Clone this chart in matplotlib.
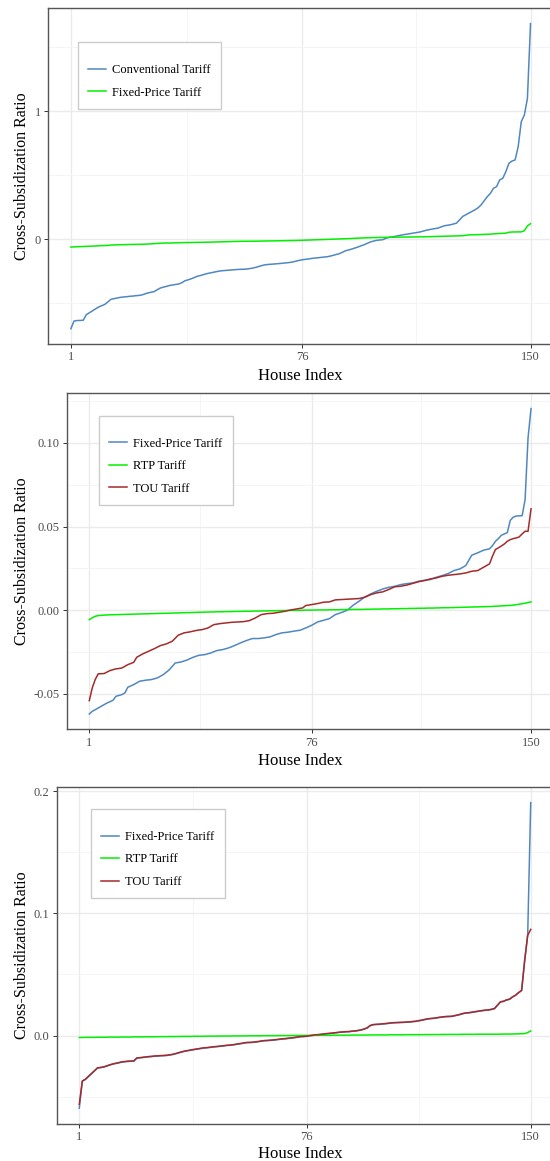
import matplotlib
matplotlib.use("Agg")
import matplotlib.pyplot as plt
import numpy as np

plt.rcParams['font.family'] = ['Liberation Serif', 'DejaVu Serif']

# ---------------- data ----------------
house_index = list(range(1, 151))
x_ticks = [1, 76, 150]
x_minor = [38.5, 113]

conventional_tariff = [
    -0.700, -0.640, -0.636, -0.635, -0.634, -0.590, -0.575, -0.560, -0.545, -0.530,
    -0.520, -0.510, -0.490, -0.470, -0.465, -0.460, -0.455, -0.452, -0.450, -0.447,
    -0.445, -0.442, -0.440, -0.436, -0.428, -0.420, -0.415, -0.410, -0.395, -0.382,
    -0.375, -0.369, -0.362, -0.358, -0.354, -0.350, -0.340, -0.325, -0.318, -0.310,
    -0.300, -0.290, -0.284, -0.277, -0.270, -0.265, -0.260, -0.255, -0.250, -0.247,
    -0.245, -0.243, -0.241, -0.239, -0.237, -0.236, -0.235, -0.234, -0.230, -0.226,
    -0.220, -0.213, -0.206, -0.200, -0.198, -0.196, -0.194, -0.192, -0.190, -0.187,
    -0.185, -0.182, -0.178, -0.172, -0.166, -0.161, -0.158, -0.155, -0.151, -0.148,
    -0.146, -0.143, -0.140, -0.138, -0.133, -0.127, -0.120, -0.114, -0.103, -0.091,
    -0.085, -0.078, -0.070, -0.062, -0.053, -0.044, -0.034, -0.023, -0.016, -0.010,
    -0.007, -0.005, 0.005, 0.013, 0.017, 0.021, 0.026, 0.031, 0.035, 0.039,
    0.043, 0.047, 0.051, 0.055, 0.061, 0.068, 0.073, 0.078, 0.082, 0.086,
    0.095, 0.104, 0.108, 0.112, 0.118, 0.125, 0.150, 0.177, 0.190, 0.203,
    0.216, 0.229, 0.245, 0.268, 0.300, 0.332, 0.358, 0.397, 0.410, 0.462,
    0.475, 0.527, 0.592, 0.610, 0.618, 0.722, 0.917, 0.969, 1.100, 1.683,
]

# Fixed-price tariff (panel 1 green, panel 2 blue)
fixed_price_tariff = [
    -0.0620, -0.0604, -0.0594, -0.0584, -0.0574, -0.0564, -0.0554, -0.0546, -0.0538, -0.0514,
    -0.0509, -0.0504, -0.0494, -0.0460, -0.0452, -0.0444, -0.0434, -0.0424, -0.0421, -0.0418,
    -0.0416, -0.0414, -0.0409, -0.0404, -0.0394, -0.0384, -0.0370, -0.0355, -0.0335, -0.0315,
    -0.0312, -0.0309, -0.0303, -0.0297, -0.0289, -0.0281, -0.0275, -0.0269, -0.0267, -0.0265,
    -0.0260, -0.0255, -0.0248, -0.0241, -0.0238, -0.0235, -0.0230, -0.0225, -0.0218, -0.0211,
    -0.0203, -0.0195, -0.0188, -0.0181, -0.0175, -0.0169, -0.0169, -0.0169, -0.0167, -0.0165,
    -0.0162, -0.0159, -0.0152, -0.0145, -0.0140, -0.0135, -0.0133, -0.0131, -0.0128, -0.0125,
    -0.0122, -0.0120, -0.0113, -0.0106, -0.0098, -0.0090, -0.0080, -0.0070, -0.0065, -0.0060,
    -0.0055, -0.0050, -0.0038, -0.0026, -0.0020, -0.0014, -0.0007, 0.0000, 0.0015, 0.0030,
    0.0042, 0.0054, 0.0067, 0.0080, 0.0089, 0.0098, 0.0106, 0.0114, 0.0120, 0.0127,
    0.0132, 0.0137, 0.0140, 0.0143, 0.0148, 0.0153, 0.0156, 0.0159, 0.0161, 0.0163,
    0.0168, 0.0173, 0.0176, 0.0179, 0.0181, 0.0183, 0.0190, 0.0197, 0.0202, 0.0207,
    0.0213, 0.0219, 0.0228, 0.0237, 0.0242, 0.0247, 0.0257, 0.0267, 0.0298, 0.0329,
    0.0336, 0.0343, 0.0351, 0.0359, 0.0363, 0.0367, 0.0386, 0.0412, 0.0428, 0.0448,
    0.0456, 0.0464, 0.0537, 0.0556, 0.0563, 0.0564, 0.0565, 0.0660, 0.1030, 0.1205,
]

tou_tariff_b = [
    -0.0540, -0.0464, -0.0414, -0.0380, -0.0379, -0.0378, -0.0369, -0.0360, -0.0355, -0.0350,
    -0.0348, -0.0345, -0.0335, -0.0325, -0.0318, -0.0311, -0.0281, -0.0271, -0.0261, -0.0253,
    -0.0245, -0.0237, -0.0229, -0.0220, -0.0211, -0.0206, -0.0201, -0.0193, -0.0185, -0.0167,
    -0.0149, -0.0142, -0.0135, -0.0132, -0.0129, -0.0125, -0.0121, -0.0118, -0.0116, -0.0111,
    -0.0106, -0.0096, -0.0086, -0.0083, -0.0080, -0.0078, -0.0076, -0.0074, -0.0072, -0.0071,
    -0.0070, -0.0069, -0.0068, -0.0065, -0.0062, -0.0054, -0.0046, -0.0036, -0.0026, -0.0023,
    -0.0020, -0.0019, -0.0018, -0.0015, -0.0012, -0.0009, -0.0006, -0.0002, 0.0002, 0.0005,
    0.0008, 0.0011, 0.0014, 0.0028, 0.0031, 0.0034, 0.0037, 0.0040, 0.0044, 0.0048,
    0.0049, 0.0050, 0.0056, 0.0062, 0.0063, 0.0064, 0.0065, 0.0066, 0.0067, 0.0068,
    0.0069, 0.0070, 0.0074, 0.0078, 0.0086, 0.0094, 0.0099, 0.0104, 0.0107, 0.0110,
    0.0117, 0.0124, 0.0132, 0.0140, 0.0142, 0.0143, 0.0147, 0.0150, 0.0155, 0.0160,
    0.0165, 0.0170, 0.0174, 0.0177, 0.0182, 0.0187, 0.0190, 0.0193, 0.0198, 0.0203,
    0.0206, 0.0209, 0.0211, 0.0213, 0.0215, 0.0217, 0.0220, 0.0223, 0.0228, 0.0233,
    0.0235, 0.0237, 0.0247, 0.0257, 0.0267, 0.0277, 0.0323, 0.0363, 0.0373, 0.0384,
    0.0396, 0.0412, 0.0422, 0.0428, 0.0432, 0.0438, 0.0456, 0.0472, 0.0472, 0.0606,
]

rtp_tariff_b = [
    -0.0056, -0.0045, -0.0036, -0.0032, -0.0030, -0.0029, -0.0028, -0.0027, -0.0027, -0.0026,
    -0.0026, -0.0025, -0.0025, -0.0024, -0.0024, -0.0023, -0.0023, -0.0022, -0.0022, -0.0021,
    -0.0021, -0.0020, -0.0020, -0.0019, -0.0019, -0.0018, -0.0018, -0.0017, -0.0017, -0.0016,
    -0.0016, -0.0015, -0.0015, -0.0014, -0.0014, -0.0013, -0.0013, -0.0012, -0.0012, -0.0011,
    -0.0011, -0.0010, -0.0010, -0.0009, -0.0009, -0.0009, -0.0008, -0.0008, -0.0008, -0.0007,
    -0.0007, -0.0007, -0.0006, -0.0006, -0.0006, -0.0005, -0.0005, -0.0005, -0.0004, -0.0004,
    -0.0004, -0.0003, -0.0003, -0.0003, -0.0002, -0.0002, -0.0002, -0.0001, -0.0001, -0.0001,
    0.0000, 0.0000, 0.0000, 0.0001, 0.0001, 0.0001, 0.0001, 0.0002, 0.0002, 0.0002,
    0.0002, 0.0003, 0.0003, 0.0003, 0.0003, 0.0004, 0.0004, 0.0004, 0.0004, 0.0005,
    0.0005, 0.0005, 0.0005, 0.0006, 0.0006, 0.0006, 0.0007, 0.0007, 0.0007, 0.0008,
    0.0008, 0.0008, 0.0009, 0.0009, 0.0009, 0.0010, 0.0010, 0.0010, 0.0011, 0.0011,
    0.0011, 0.0012, 0.0012, 0.0012, 0.0013, 0.0013, 0.0013, 0.0014, 0.0014, 0.0015,
    0.0015, 0.0015, 0.0016, 0.0016, 0.0017, 0.0017, 0.0018, 0.0018, 0.0019, 0.0019,
    0.0020, 0.0020, 0.0021, 0.0021, 0.0022, 0.0022, 0.0023, 0.0024, 0.0025, 0.0026,
    0.0027, 0.0028, 0.0029, 0.0031, 0.0033, 0.0036, 0.0039, 0.0042, 0.0046, 0.0050,
]

tou_tariff_c = [
    -0.0563, -0.0372, -0.0358, -0.0335, -0.0311, -0.0288, -0.0265, -0.0261, -0.0257, -0.0249,
    -0.0240, -0.0233, -0.0227, -0.0222, -0.0216, -0.0213, -0.0210, -0.0209, -0.0208, -0.0183,
    -0.0181, -0.0178, -0.0175, -0.0172, -0.0170, -0.0167, -0.0166, -0.0164, -0.0163, -0.0161,
    -0.0157, -0.0153, -0.0146, -0.0139, -0.0132, -0.0126, -0.0122, -0.0117, -0.0113, -0.0109,
    -0.0105, -0.0101, -0.0099, -0.0096, -0.0093, -0.0090, -0.0088, -0.0085, -0.0082, -0.0079,
    -0.0077, -0.0074, -0.0070, -0.0066, -0.0062, -0.0057, -0.0056, -0.0055, -0.0052, -0.0049,
    -0.0045, -0.0041, -0.0040, -0.0038, -0.0036, -0.0033, -0.0030, -0.0027, -0.0025, -0.0022,
    -0.0019, -0.0016, -0.0012, -0.0008, -0.0007, -0.0005, -0.0001, 0.0003, 0.0006, 0.0008,
    0.0011, 0.0014, 0.0017, 0.0019, 0.0022, 0.0025, 0.0028, 0.0030, 0.0032, 0.0033,
    0.0036, 0.0038, 0.0042, 0.0046, 0.0054, 0.0063, 0.0082, 0.0090, 0.0092, 0.0093,
    0.0096, 0.0098, 0.0101, 0.0104, 0.0106, 0.0107, 0.0108, 0.0109, 0.0111, 0.0112,
    0.0115, 0.0117, 0.0122, 0.0126, 0.0132, 0.0137, 0.0140, 0.0142, 0.0146, 0.0150,
    0.0153, 0.0156, 0.0157, 0.0158, 0.0164, 0.0169, 0.0176, 0.0183, 0.0186, 0.0189,
    0.0193, 0.0197, 0.0201, 0.0205, 0.0208, 0.0210, 0.0215, 0.0221, 0.0249, 0.0276,
    0.0281, 0.0292, 0.0298, 0.0317, 0.0331, 0.0352, 0.0370, 0.0615, 0.0820, 0.0869,
]

fixed_price_tariff_c = [
    -0.0595, -0.0375, -0.0360, -0.0337, -0.0313, -0.0290, -0.0267, -0.0263, -0.0259, -0.0251,
    -0.0242, -0.0235, -0.0229, -0.0224, -0.0218, -0.0215, -0.0212, -0.0211, -0.0210, -0.0185,
    -0.0183, -0.0180, -0.0177, -0.0174, -0.0172, -0.0169, -0.0168, -0.0166, -0.0165, -0.0163,
    -0.0159, -0.0155, -0.0148, -0.0141, -0.0134, -0.0128, -0.0124, -0.0119, -0.0115, -0.0111,
    -0.0107, -0.0103, -0.0101, -0.0098, -0.0095, -0.0092, -0.0090, -0.0087, -0.0084, -0.0081,
    -0.0079, -0.0076, -0.0072, -0.0068, -0.0064, -0.0059, -0.0058, -0.0057, -0.0054, -0.0051,
    -0.0047, -0.0043, -0.0042, -0.0040, -0.0038, -0.0035, -0.0032, -0.0029, -0.0027, -0.0024,
    -0.0021, -0.0018, -0.0014, -0.0010, -0.0009, -0.0007, -0.0003, 0.0001, 0.0004, 0.0006,
    0.0009, 0.0012, 0.0015, 0.0017, 0.0020, 0.0023, 0.0026, 0.0028, 0.0030, 0.0031,
    0.0034, 0.0036, 0.0040, 0.0044, 0.0052, 0.0061, 0.0080, 0.0088, 0.0090, 0.0091,
    0.0094, 0.0096, 0.0099, 0.0102, 0.0104, 0.0105, 0.0106, 0.0107, 0.0109, 0.0110,
    0.0113, 0.0115, 0.0120, 0.0124, 0.0130, 0.0135, 0.0138, 0.0140, 0.0144, 0.0148,
    0.0151, 0.0154, 0.0155, 0.0156, 0.0162, 0.0167, 0.0174, 0.0181, 0.0184, 0.0187,
    0.0191, 0.0195, 0.0199, 0.0203, 0.0206, 0.0208, 0.0213, 0.0219, 0.0247, 0.0274,
    0.0279, 0.0290, 0.0296, 0.0315, 0.0329, 0.0350, 0.0368, 0.0613, 0.0825, 0.1907,
]

rtp_tariff_c = [
    -0.0016, -0.0016, -0.0015, -0.0015, -0.0015, -0.0015, -0.0014, -0.0014, -0.0014, -0.0014,
    -0.0013, -0.0013, -0.0013, -0.0013, -0.0012, -0.0012, -0.0012, -0.0012, -0.0011, -0.0011,
    -0.0011, -0.0011, -0.0010, -0.0010, -0.0010, -0.0010, -0.0009, -0.0009, -0.0009, -0.0009,
    -0.0008, -0.0008, -0.0008, -0.0008, -0.0007, -0.0007, -0.0007, -0.0007, -0.0006, -0.0006,
    -0.0006, -0.0006, -0.0005, -0.0005, -0.0005, -0.0005, -0.0004, -0.0004, -0.0004, -0.0004,
    -0.0004, -0.0003, -0.0003, -0.0003, -0.0003, -0.0003, -0.0002, -0.0002, -0.0002, -0.0002,
    -0.0002, -0.0001, -0.0001, -0.0001, -0.0001, -0.0001, 0.0000, 0.0000, 0.0000, 0.0000,
    0.0000, 0.0000, 0.0001, 0.0001, 0.0001, 0.0001, 0.0001, 0.0001, 0.0002, 0.0002,
    0.0002, 0.0002, 0.0002, 0.0002, 0.0003, 0.0003, 0.0003, 0.0003, 0.0003, 0.0003,
    0.0004, 0.0004, 0.0004, 0.0004, 0.0004, 0.0004, 0.0005, 0.0005, 0.0005, 0.0005,
    0.0005, 0.0005, 0.0006, 0.0006, 0.0006, 0.0006, 0.0006, 0.0006, 0.0007, 0.0007,
    0.0007, 0.0007, 0.0007, 0.0007, 0.0008, 0.0008, 0.0008, 0.0008, 0.0008, 0.0008,
    0.0009, 0.0009, 0.0009, 0.0009, 0.0009, 0.0009, 0.0010, 0.0010, 0.0010, 0.0010,
    0.0010, 0.0010, 0.0011, 0.0011, 0.0011, 0.0011, 0.0011, 0.0011, 0.0011, 0.0011,
    0.0012, 0.0012, 0.0012, 0.0013, 0.0013, 0.0014, 0.0015, 0.0016, 0.0024, 0.0038,
]

y_ticks_a = [0, 1]
y_labels_a = ["0", "1"]
y_minor_a = [-0.5, 0.5, 1.5]
y_ticks_b = [-0.05, 0.0, 0.05, 0.10]
y_labels_b = ["-0.05", "0.00", "0.05", "0.10"]
y_minor_b = [-0.025, 0.025, 0.075, 0.125]
y_ticks_c = [0.0, 0.1, 0.2]
y_labels_c = ["0.0", "0.1", "0.2"]
y_minor_c = [-0.05, 0.05, 0.15]

BLUE = "#4F88C0"
GREEN = "#00F000"
RED = "#A52A2A"

# ---------------- figure ----------------
W, H = 550, 1161
fig = plt.figure(figsize=(W / 100, H / 100), dpi=100)
fig.patch.set_facecolor("white")


def px_axes(left, top, right, bottom):
    return fig.add_axes([left / W, 1 - bottom / H, (right - left) / W, (bottom - top) / H])


def style(ax, yt, yl, ymin):
    ax.set_xlim(1 - 0.05 * 149, 150 + 0.05 * 149)
    ax.set_xticks(x_ticks)
    ax.set_xticklabels([str(v) for v in x_ticks])
    ax.set_xticks(x_minor, minor=True)
    ax.set_yticks(yt)
    ax.set_yticklabels(yl)
    ax.set_yticks(ymin, minor=True)
    ax.grid(True, which="major", color="#EBEBEB", linewidth=1.0, zorder=0)
    ax.grid(True, which="minor", color="#F4F4F4", linewidth=0.6, zorder=0)
    ax.set_axisbelow(True)
    ax.tick_params(which="major", direction="out", length=2.7, width=0.7, color="#333333",
                   labelsize=9, labelcolor="#4D4D4D", pad=2.5)
    ax.tick_params(which="minor", length=0)
    for s in ax.spines.values():
        s.set_color("#555555")
        s.set_linewidth(1.0)


def set_ylim_gg(ax, series):
    lo = min(min(s) for s in series)
    hi = max(max(s) for s in series)
    r = hi - lo
    ax.set_ylim(lo - 0.05 * r, hi + 0.05 * r)


def add_legend(ax, left_px, top_px):
    leg = ax.legend(loc="upper left", bbox_to_anchor=(left_px / W, 1 - top_px / H),
                    bbox_transform=fig.transFigure, borderaxespad=0,
                    fontsize=9, frameon=True, fancybox=False, framealpha=1,
                    edgecolor="#CCCCCC", handlelength=1.45, handletextpad=0.45,
                    labelspacing=0.85, borderpad=0.82, title=" ", title_fontsize=0.5)
    leg.get_frame().set_linewidth(1.0)
    return leg


LW = 1.1

# Panel A
axA = px_axes(47.9, 8.4, 553.5, 344)
axA.plot(house_index, conventional_tariff, color=BLUE, lw=LW, label="Conventional Tariff")
axA.plot(house_index, fixed_price_tariff, color=GREEN, lw=LW, label="Fixed-Price Tariff")
set_ylim_gg(axA, [conventional_tariff, fixed_price_tariff])
style(axA, y_ticks_a, y_labels_a, y_minor_a)
add_legend(axA, 78, 42)

# Panel B
axB = px_axes(67.2, 393.3, 553.1, 729.3)
axB.plot(house_index, fixed_price_tariff, color=BLUE, lw=LW, label="Fixed-Price Tariff")
axB.plot(house_index, rtp_tariff_b, color=GREEN, lw=LW, label="RTP Tariff")
axB.plot(house_index, tou_tariff_b, color=RED, lw=LW, label="TOU Tariff")
set_ylim_gg(axB, [fixed_price_tariff, rtp_tariff_b, tou_tariff_b])
style(axB, y_ticks_b, y_labels_b, y_minor_b)
add_legend(axB, 99, 415.7)

# Panel C
axC = px_axes(56.7, 787.3, 553.3, 1123.5)
axC.plot(house_index, fixed_price_tariff_c, color=BLUE, lw=LW, label="Fixed-Price Tariff")
axC.plot(house_index, rtp_tariff_c, color=GREEN, lw=LW, label="RTP Tariff")
axC.plot(house_index, tou_tariff_c, color=RED, lw=LW, label="TOU Tariff")
set_ylim_gg(axC, [fixed_price_tariff_c, rtp_tariff_c, tou_tariff_c])
style(axC, y_ticks_c, y_labels_c, y_minor_c)
add_legend(axC, 91, 809)

# axis titles
for (cy_axis, cy_title) in [((8.4 + 344) / 2, 375.5), ((393.3 + 729.3) / 2, 761), ((787.3 + 1123.5) / 2, 1154.5)]:
    fig.text(22 / W, 1 - cy_axis / H, "Cross-Subsidization Ratio", rotation=90,
             ha="center", va="center", fontsize=11.5, color="black")
    fig.text(300.5 / W, 1 - cy_title / H, "House Index", ha="center", va="center",
             fontsize=12, color="black")

fig.savefig("out.png", dpi=100)
